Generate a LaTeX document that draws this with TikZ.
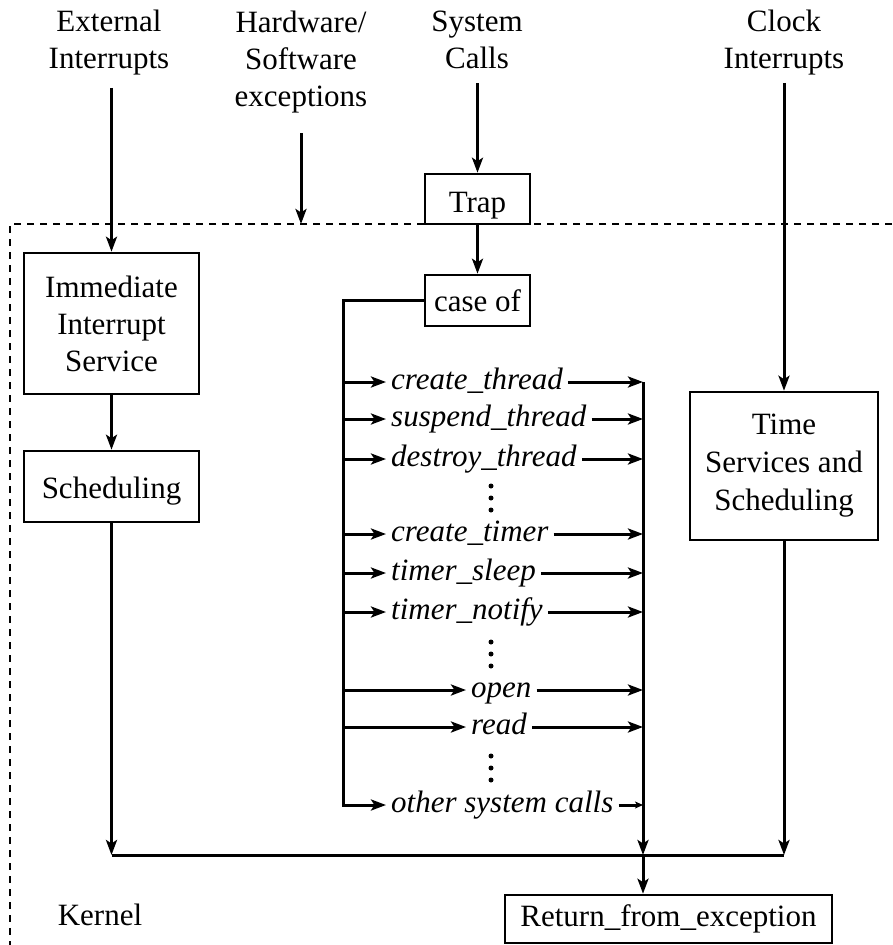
\documentclass[tikz,border=0pt]{standalone}
\usepackage{fontspec}
\setmainfont{Liberation Serif}
\usetikzlibrary{arrows.meta}
\begin{document}
\begin{tikzpicture}[x=1pt,y=-1pt,
  every node/.style={font=\fontsize{31}{37}\selectfont},
  box/.style={draw, line width=2.6pt, inner sep=0pt, align=center},
  conn/.style={line width=3pt},
  arr/.style={conn, -{Stealth[length=15pt,width=11pt,inset=3.5pt]}},
  sarr/.style={conn, -{Stealth[length=8pt,width=7pt,inset=2pt]}},
  lbl/.style={font=\fontsize{31}{37}\selectfont\itshape, inner xsep=5pt, inner ysep=0pt, text height=22pt, text depth=8pt, anchor=west},
  src/.style={align=center, inner sep=0pt},
  dotmark/.style={fill, circle, inner sep=0pt, minimum size=5pt}
]
\useasboundingbox (0,0) rectangle (892,945);

% sources
\node[src] (ext) at (109,43) {External\\Interrupts};
\node[src] (hw) at (301,62) {Hardware/\\Software\\exceptions};
\node[src] (sys) at (477,40) {System\\Calls};
\node[src] (clk) at (784,43) {Clock\\Interrupts};

% kernel boundary
\draw[line width=1.3pt, dash pattern=on 7pt off 6pt] (892,224) -- (10,224) -- (10,945);

% boxes
\node[box, minimum width=175pt, minimum height=141pt] (imm) at (111.5,323.5) {Immediate\\Interrupt\\Service};
\node[box, minimum width=175pt, minimum height=71pt, text height=24pt, text depth=0pt] (sched) at (111.5,486.5) {Scheduling};
\node[box, minimum width=188pt, minimum height=148pt, font=\fontsize{31}{38}\selectfont] (time) at (784,466) {Time\\Services and\\Scheduling};
\node[box, minimum width=105pt, minimum height=50pt, text height=26pt, text depth=0pt] (trap) at (477.5,199) {Trap};
\node[box, minimum width=105pt, minimum height=51pt] (case) at (477.5,300.5) {case of};
\node[box, minimum width=327pt, minimum height=48pt] (ret) at (668.5,919) {Return\_from\_exception};
\node (kern) at (100,915) {Kernel};

% entry arrows
\coordinate (hwend) at (301,224);
\draw[arr, shorten <=12pt] (ext.south -| imm.north) -- (imm.north);
\draw[arr, shorten <=20pt] (hw.south) -- (hwend);
\draw[arr, shorten <=14pt] (sys.south -| trap.north) -- (trap.north);
\draw[arr, shorten <=7pt] (clk.south -| time.north) -- (time.north);
\draw[arr] (trap.south) -- (case.north);
\draw[arr] (imm.south) -- (sched.north);

% system call labels
\node[lbl] (l1) at (386,382) {create\_thread};
\node[lbl] (l2) at (386,419) {suspend\_thread};
\node[lbl] (l3) at (386,459) {destroy\_thread};
\node[lbl] (l4) at (386,534) {create\_timer};
\node[lbl] (l5) at (386,573) {timer\_sleep};
\node[lbl] (l6) at (386,612) {timer\_notify};
\node[lbl] (l7) at (466,690) {open};
\node[lbl] (l8) at (466,727) {read};
\node[lbl] (l9) at (386,805) {other system calls};

\foreach \yy in {498,654,768} {
  \node[dotmark] at (491,\yy-12) {};
  \node[dotmark] at (491,\yy) {};
  \node[dotmark] at (491,\yy+12) {};
}

\coordinate (cl) at ([xshift=-80pt]case.west);
\coordinate (cr) at (643,382);
\draw[arr] (case.west) -- (cl) -- (cl |- l9.west) -- (l9.west);
\foreach \k in {1,...,8} {
  \draw[arr] (cl |- l\k.west) -- (l\k.west);
  \draw[arr] (l\k.east) -- (cr |- l\k.east);
}
\draw[sarr] (l9.east) -- (cr |- l9.east);

% bus
\coordinate (bl) at (111.5,855);
\coordinate (br) at (784,855);
\draw[conn] (bl) -- (br);
\draw[arr] (sched.south) -- (bl);
\draw[arr] (time.south) -- (br);
\draw[arr] (cr) -- (cr |- bl);
\draw[arr] (cr |- bl) -- (cr |- ret.north);
\end{tikzpicture}
\end{document}
